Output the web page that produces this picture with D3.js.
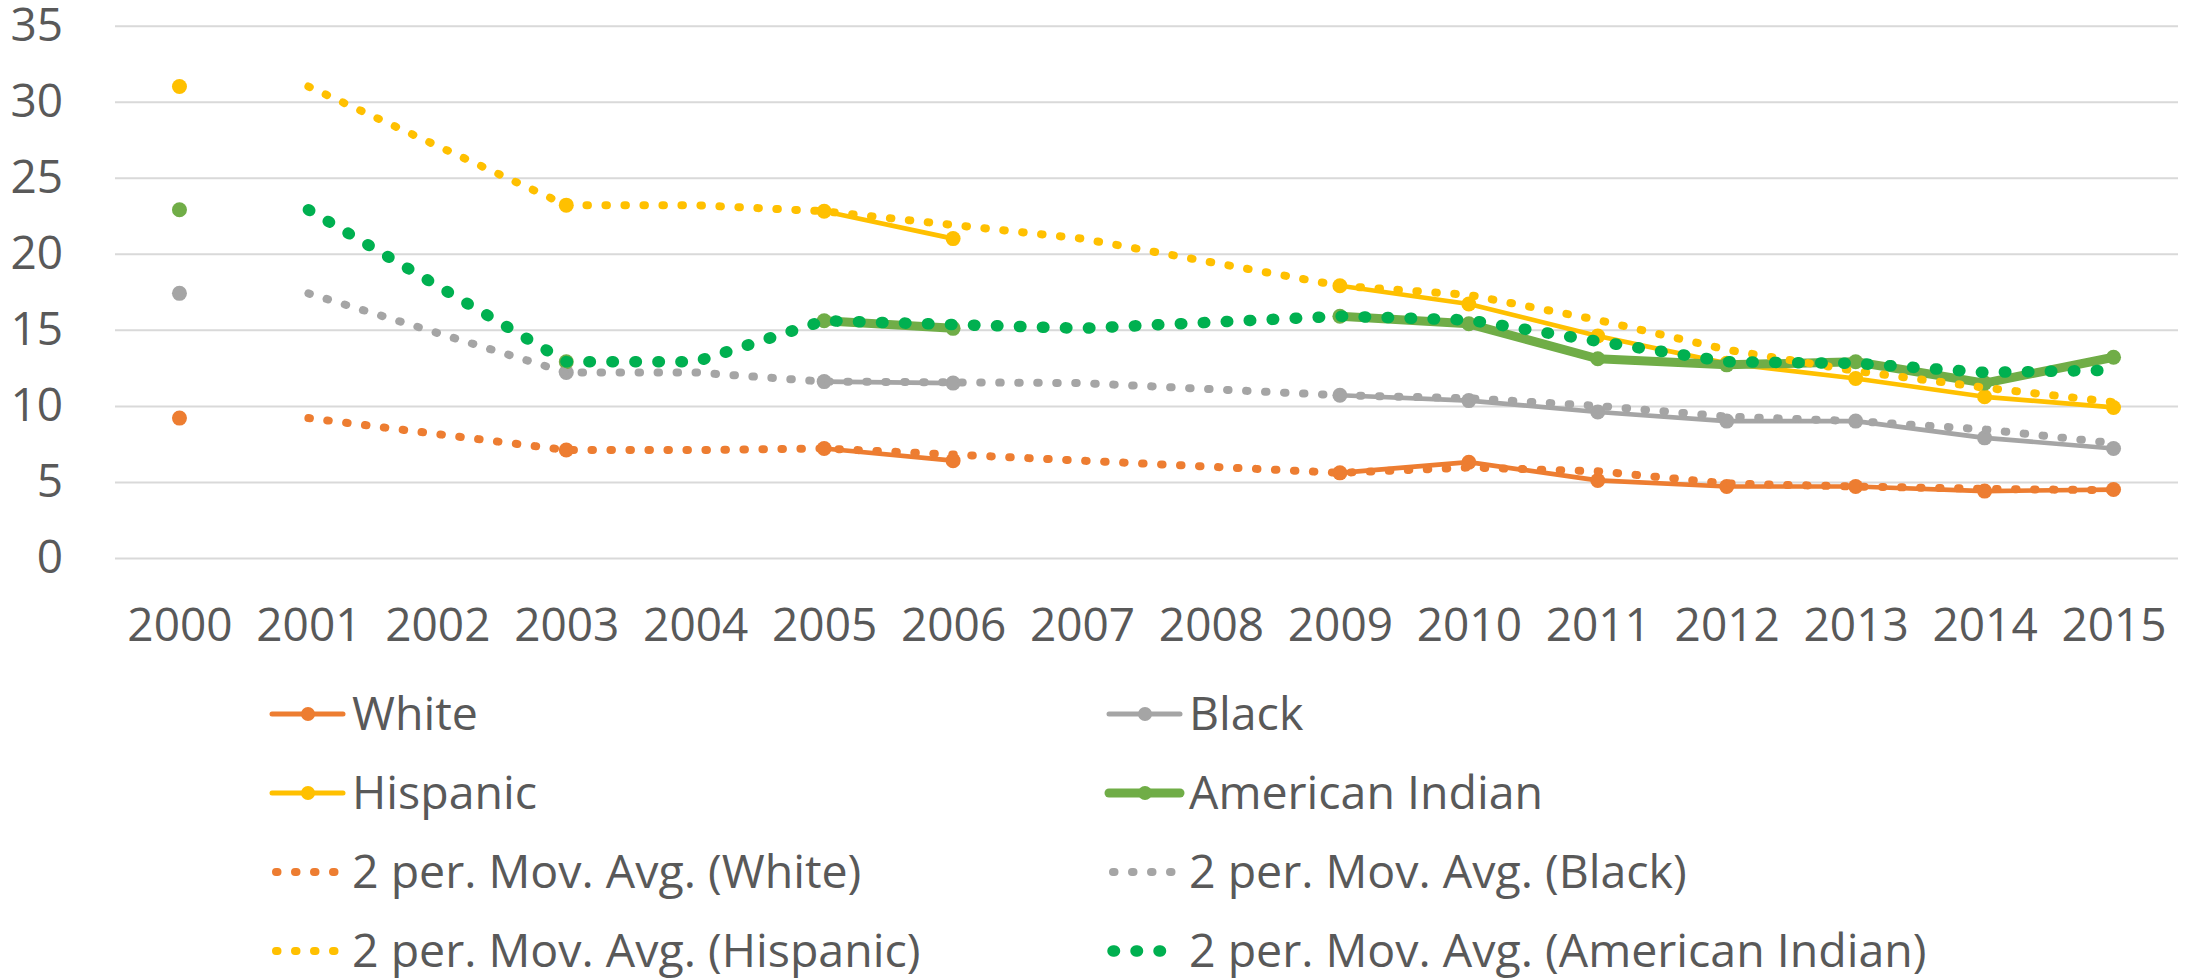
<!DOCTYPE html>
<html>
<head>
<meta charset="utf-8">
<script src="https://cdn.jsdelivr.net/npm/d3@7"></script>
<style>
  body { margin: 0; background: #fff; }
  svg text { font-family: "Open Sans", Lato, sans-serif; fill: #595959; }
</style>
</head>
<body>
<svg id="chart" width="2199" height="980"></svg>
<script>
// values (null = no value that year)
const years = ["2000", "2001", "2002", "2003", "2004", "2005", "2006", "2007",
               "2008", "2009", "2010", "2011", "2012", "2013", "2014", "2015"];

const white    = [9.2, null, null, 7.1, null, 7.2, 6.4, null, null, 5.6, 6.3, 5.1, 4.7, 4.7, 4.4, 4.5];
const black    = [17.4, null, null, 12.2, null, 11.6, 11.5, null, null, 10.7, 10.35, 9.6, 9.0, 9.0, 7.9, 7.2];
const hispanic = [31.0, null, null, 23.2, null, 22.8, 21.0, null, null, 17.9, 16.7, 14.6, 12.8, 11.8, 10.6, 9.9];
const amIndian = [22.9, null, null, 12.9, null, 15.6, 15.1, null, null, 15.9, 15.4, 13.1, 12.7, 12.9, 11.5, 13.2];

// 2 period moving average trendlines, as drawn (Excel bridges the empty years)
const maWhite    = [null, 9.2, null, 7.1, 7.1, 7.2, 6.8, 6.4, null, 5.6, 5.95, 5.7, 4.9, 4.7, 4.55, 4.45];
const maBlack    = [null, 17.4, null, 12.2, 12.2, 11.6, 11.55, 11.5, null, 10.7, 10.5, 10.0, 9.3, 9.0, 8.45, 7.55];
const maHispanic = [null, 31.0, null, 23.2, 23.2, 22.8, 21.9, 21.0, null, 17.9, 17.3, 15.65, 13.7, 12.3, 11.2, 10.25];
const maAmIndian = [null, 22.9, null, 12.9, 12.9, 15.6, 15.35, 15.1, null, 15.9, 15.65, 14.25, 12.9, 12.8, 12.2, 12.35];

const yTicks = [0, 5, 10, 15, 20, 25, 30, 35];

const series = [
  {name: "White", values: white, color: "#ED7D31", width: 4.7},
  {name: "Black", values: black, color: "#A5A5A5", width: 4.7},
  {name: "Hispanic", values: hispanic, color: "#FFC000", width: 4.7},
  {name: "American Indian", values: amIndian, color: "#70AD47", width: 9}
];
const trends = [
  {name: "2 per. Mov. Avg. (White)", values: maWhite, color: "#ED7D31", width: 8, gap: 19},
  {name: "2 per. Mov. Avg. (Black)", values: maBlack, color: "#A5A5A5", width: 8, gap: 19},
  {name: "2 per. Mov. Avg. (Hispanic)", values: maHispanic, color: "#FFC000", width: 8, gap: 19},
  {name: "2 per. Mov. Avg. (American Indian)", values: maAmIndian, color: "#00B050", width: 11.5, gap: 23}
];

const svg = d3.select("#chart");
const plot = {left: 115, right: 2178, top: 25.7, bottom: 558};
const fontSize = 46;

const x = d3.scalePoint().domain(years).range([plot.left, plot.right]).padding(0.5);
const y = d3.scaleLinear().domain([0, 35]).range([plot.bottom, plot.top]);

// gridlines + y labels
const yAxis = svg.append("g")
  .attr("transform", `translate(${plot.left},0)`)
  .call(d3.axisLeft(y).tickValues(yTicks).tickSize(-(plot.right - plot.left)).tickPadding(52));
yAxis.select(".domain").remove();
yAxis.selectAll(".tick line").attr("stroke", "#D9D9D9").attr("stroke-width", 2);
yAxis.selectAll(".tick text").style("font-size", fontSize + "px").attr("fill", "#595959");

// x labels
const xAxis = svg.append("g")
  .attr("transform", `translate(0,${plot.bottom})`)
  .call(d3.axisBottom(x).tickSize(0).tickPadding(50));
xAxis.select(".domain").remove();
xAxis.selectAll(".tick text").style("font-size", fontSize + "px").attr("fill", "#595959");

const points = vals => vals.map((v, i) => ({year: years[i], v})).filter(d => d.v != null);

// gaps stay open for the data series
const gapLine = d3.line()
  .defined(d => d != null)
  .x((d, i) => x(years[i]))
  .y(d => y(d));

// trendlines run straight over the empty years
const trendLine = d3.line()
  .x(d => x(d.year))
  .y(d => y(d.v));

// data series
series.forEach(s => {
  svg.append("path")
    .datum(s.values)
    .attr("d", gapLine)
    .attr("fill", "none")
    .attr("stroke", s.color)
    .attr("stroke-width", s.width)
    .attr("stroke-linejoin", "round")
    .attr("stroke-linecap", "round");
  svg.append("g").selectAll("circle")
    .data(points(s.values))
    .join("circle")
    .attr("cx", d => x(d.year))
    .attr("cy", d => y(d.v))
    .attr("r", 7.5)
    .attr("fill", s.color);
});

// moving average trendlines (dotted)
trends.forEach(t => {
  svg.append("path")
    .datum(points(t.values))
    .attr("d", trendLine)
    .attr("fill", "none")
    .attr("stroke", t.color)
    .attr("stroke-width", t.width)
    .attr("stroke-linecap", "round")
    .attr("stroke-dasharray", `1.5 ${t.gap - 1.5}`);
});

// legend, two columns
const legendItems = [];
series.forEach(s => { legendItems.push({...s, kind: "solid"}); });
trends.forEach(t => { legendItems.push({...t, kind: "dot"}); });

const colX = [272, 1109];
const legend = svg.append("g");
legendItems.forEach((d, i) => {
  const cx = colX[i % 2];
  const cy = 714 + Math.floor(i / 2) * 79;
  const g = legend.append("g").attr("transform", `translate(${cx},${cy})`);
  if (d.kind === "solid") {
    g.append("line").attr("x1", 0).attr("x2", 71).attr("y1", 0).attr("y2", 0)
      .attr("stroke", d.color).attr("stroke-width", d.width === 9 ? 9 : 5)
      .attr("stroke-linecap", "round");
    g.append("circle").attr("cx", 36).attr("cy", 0).attr("r", 7).attr("fill", d.color);
  } else {
    g.append("line").attr("x1", 4).attr("x2", 71).attr("y1", 0).attr("y2", 0)
      .attr("stroke", d.color).attr("stroke-width", d.width)
      .attr("stroke-linecap", "round")
      .attr("stroke-dasharray", `1.5 ${d.gap - 1.5}`);
  }
  g.append("text")
    .attr("x", 80)
    .attr("y", 0)
    .attr("dy", "0.34em")
    .style("font-size", "46.5px")
    .text(d.name);
});
</script>
</body>
</html>
